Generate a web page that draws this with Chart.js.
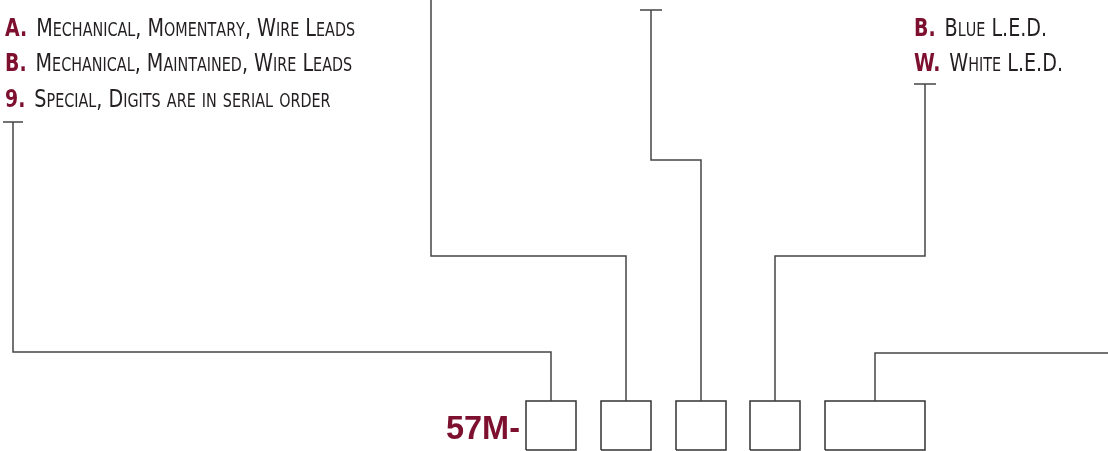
<!DOCTYPE html>
<html lang="en">
<head>
    <meta charset="UTF-8">
    <title>57M Ordering Code</title>
    <script src="https://cdn.jsdelivr.net/npm/chart.js"></script>
    <style>
        body {
            margin: 0;
            padding: 0;
            background: #ffffff;
            overflow: hidden;
        }
        #wrap {
            width: 1108px;
            height: 451px;
        }
    </style>
</head>
<body>
    <div id="wrap">
        <canvas id="codeChart" width="1108" height="451"></canvas>
    </div>
    <script>
        // option lists (code + description)
        const switchCodes = ['A.', 'B.', '9.'];
        const switchTexts = ['Mechanical, Momentary, Wire Leads', 'Mechanical, Maintained, Wire Leads', 'Special, Digits are in serial order'];
        const switchX = [5, 5, 5];
        const switchY = [36, 71, 107];

        const ledCodes = ['B.', 'W.'];
        const ledTexts = ['Blue L.E.D.', 'White L.E.D.'];
        const ledX = [914, 914];
        const ledY = [36, 71];

        const prefix = '57M-';

        // part number slots
        const slotLeft = [526, 601, 676, 750, 825];
        const slotRight = [576, 651, 726, 800, 925];
        const slotTop = 401;
        const slotBottom = 450;

        // leader lines, from option to slot
        const leaderX = [
            [13, 13, 551, 551],
            [431, 431, 626, 626],
            [651, 651, 701, 701],
            [925, 925, 775, 775],
            [1108, 875, 875]
        ];
        const leaderY = [
            [122, 352, 352, 401],
            [0, 256, 256, 401],
            [10, 160, 160, 401],
            [84, 256, 256, 401],
            [353, 353, 401]
        ];
        // small T-bar ends
        const tickX = [[3, 23], [640, 662], [914, 936]];
        const tickY = [122, 10, 84];

        const red = '#7d0f2f';
        const ink = '#231f20';
        const lineColor = '#454545';

        const datasets = [];
        leaderX.forEach((xs, i) => {
            datasets.push({
                data: xs.map((x, j) => ({ x: x, y: leaderY[i][j] })),
                showLine: true, borderColor: lineColor, borderWidth: 1.5,
                pointRadius: 0, fill: false, tension: 0
            });
        });
        tickX.forEach((xs, i) => {
            datasets.push({
                data: xs.map(x => ({ x: x, y: tickY[i] })),
                showLine: true, borderColor: lineColor, borderWidth: 1.5,
                pointRadius: 0, fill: false
            });
        });
        slotLeft.forEach((l, i) => {
            const r = slotRight[i];
            datasets.push({
                data: [
                    { x: l, y: slotBottom }, { x: l, y: slotTop },
                    { x: r, y: slotTop }, { x: r, y: slotBottom }, { x: l, y: slotBottom }
                ],
                showLine: true, borderColor: '#333333', borderWidth: 1.5,
                pointRadius: 0, fill: false
            });
        });

        const FONT = '"Liberation Sans Narrow", "DejaVu Sans Condensed", sans-serif';
        const STRETCH = 1.2;  // letters in the reference are tall and narrow

        // fake small caps: lowercase letters drawn as smaller capitals
        function drawSmallCaps(ctx, text, x, size) {
            let cx = x;
            for (const ch of text) {
                const lower = ch !== ch.toUpperCase();
                ctx.font = (lower ? size * 0.75 : size) + 'px ' + FONT;
                const c = lower ? ch.toUpperCase() : ch;
                ctx.fillText(c, cx, 0);
                cx += ctx.measureText(c).width;
            }
            return cx;
        }

        const textPlugin = {
            id: 'codeText',
            afterDraw(chart) {
                const ctx = chart.ctx;
                const xs = chart.scales.x, ys = chart.scales.y;
                ctx.save();
                ctx.textBaseline = 'alphabetic';
                ctx.textAlign = 'left';

                function optionRow(code, text, x, y) {
                    const px = xs.getPixelForValue(x), py = ys.getPixelForValue(y);
                    ctx.save();
                    ctx.translate(0, py);
                    ctx.scale(1, STRETCH);
                    ctx.fillStyle = red;
                    ctx.font = 'bold 21px ' + FONT;
                    ctx.fillText(code, px, 0);
                    const w = ctx.measureText(code).width;
                    ctx.fillStyle = ink;
                    drawSmallCaps(ctx, text, px + w + 9, 21.3);
                    ctx.restore();
                }
                switchCodes.forEach((c, i) => optionRow(c, switchTexts[i], switchX[i], switchY[i]));
                ledCodes.forEach((c, i) => optionRow(c, ledTexts[i], ledX[i], ledY[i]));

                ctx.save();
                ctx.translate(xs.getPixelForValue(slotLeft[0] - 6), ys.getPixelForValue(439));
                ctx.scale(1, 1.05);
                ctx.fillStyle = red;
                ctx.font = 'bold 32.5px "Liberation Sans", Arial, sans-serif';
                ctx.textAlign = 'right';
                ctx.fillText(prefix, 0, 0);
                ctx.restore();
                ctx.restore();
            }
        };

        new Chart(document.getElementById('codeChart').getContext('2d'), {
            type: 'scatter',
            data: { datasets: datasets },
            options: {
                responsive: false,
                animation: false,
                layout: { padding: 0 },
                plugins: { legend: { display: false }, tooltip: { enabled: false } },
                scales: {
                    x: { type: 'linear', min: 0, max: 1108, display: false },
                    y: { type: 'linear', min: 0, max: 451, reverse: true, display: false }
                }
            },
            plugins: [textPlugin]
        });
    </script>
</body>
</html>
